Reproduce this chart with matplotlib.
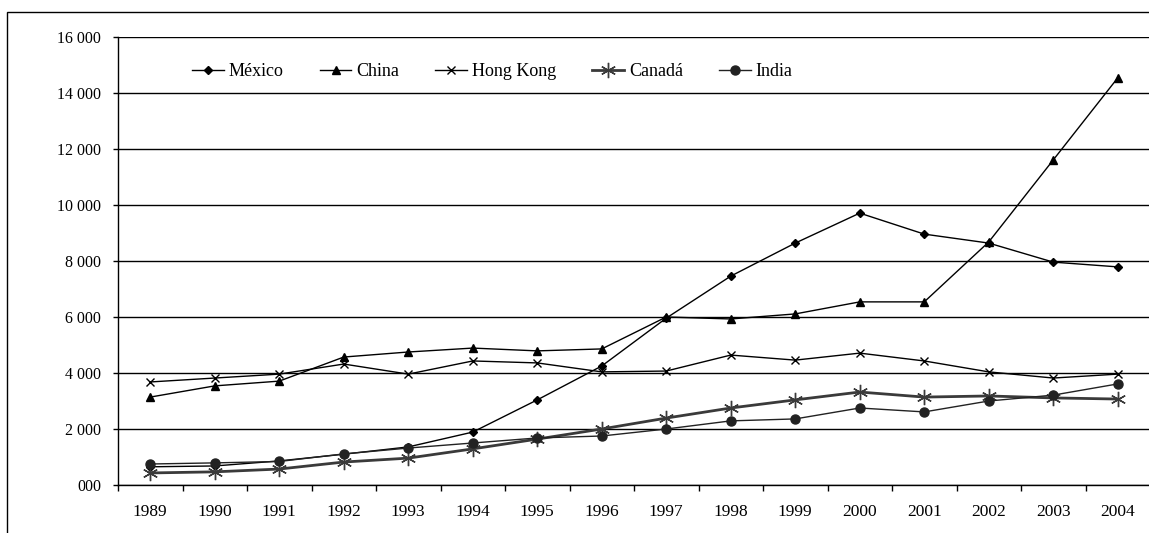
import matplotlib.pyplot as plt
from matplotlib.patches import Rectangle
from matplotlib.ticker import FixedLocator, FuncFormatter

plt.rcParams['font.family'] = ['Liberation Serif', 'DejaVu Serif']

years = list(range(1989, 2005))
mexico = [650, 680, 860, 1100, 1360, 1890, 3040, 4250, 5960, 7460, 8640, 9710, 8960, 8640, 7960, 7790]
china = [3140, 3540, 3710, 4570, 4750, 4890, 4790, 4860, 6000, 5930, 6110, 6540, 6540, 8680, 11610, 14540]
hong_kong = [3680, 3820, 3960, 4320, 3960, 4430, 4360, 4040, 4070, 4640, 4460, 4710, 4430, 4040, 3820, 3960]
canada = [430, 470, 570, 820, 960, 1290, 1640, 2000, 2390, 2750, 3040, 3320, 3140, 3180, 3110, 3070]
india = [750, 790, 840, 1110, 1320, 1500, 1680, 1750, 2000, 2290, 2360, 2750, 2610, 3000, 3210, 3610]

fig = plt.figure(figsize=(11.49, 5.33), dpi=100)
W, H = 1149, 533
ax = fig.add_axes([118 / W, 48 / H, 1032 / W, 448 / H])

x = range(len(years))
ax.plot(x, mexico, '-', color='black', lw=1.0, marker='D', ms=4.5, label='México')
ax.plot(x, china, '-', color='black', lw=1.0, marker='^', ms=6, label='China')
ax.plot(x, hong_kong, '-', color='black', lw=1.0, marker='x', ms=6, mew=1.0, label='Hong Kong')
ax.plot(x, canada, '-', color='#3a3a3a', lw=2.0, marker=(6, 2, 0), ms=11, mew=1.0, label='Canadá')
ax.plot(x, india, '-', color='#222222', lw=1.0, marker='o', ms=6.5, label='India')

ax.set_xlim(-0.5, len(years) - 0.5)
ax.set_ylim(0, 16000)
ax.yaxis.set_major_locator(FixedLocator(range(0, 16001, 2000)))
ax.yaxis.set_major_formatter(FuncFormatter(
    lambda v, p: '000' if v == 0 else f'{int(v):,}'.replace(',', ' ')))
ax.grid(axis='y', color='black', lw=1.0)
ax.set_axisbelow(True)

ax.set_xticks([i for i in x])
ax.set_xticklabels([str(y) for y in years])
ax.xaxis.set_minor_locator(FixedLocator([i - 0.5 for i in range(len(years) + 1)]))
ax.tick_params(axis='x', which='major', length=0, pad=14, labelsize=12.5)
ax.tick_params(axis='x', which='minor', length=4.3, direction='out', width=1)
ax.tick_params(axis='y', length=3.6, direction='out', width=1, labelsize=11.5, pad=8.5)

for s in ('top', 'right'):
    ax.spines[s].set_visible(False)
ax.spines['left'].set_linewidth(1.0)
ax.spines['bottom'].set_linewidth(1.0)

ax.legend(loc='center left', bbox_to_anchor=(192 / W, 1 - 72 / H),
          bbox_transform=fig.transFigure, ncol=5, frameon=False,
          fontsize=13, borderpad=0, borderaxespad=0,
          handlelength=1.76, handletextpad=0.27, columnspacing=2.0)

fig.patches.append(Rectangle((7 / W, -0.01), 1.0, 1 - 12 / H + 0.01,
                             transform=fig.transFigure, fill=False,
                             edgecolor='black', lw=1.0))

fig.savefig('out.png', dpi=100)
